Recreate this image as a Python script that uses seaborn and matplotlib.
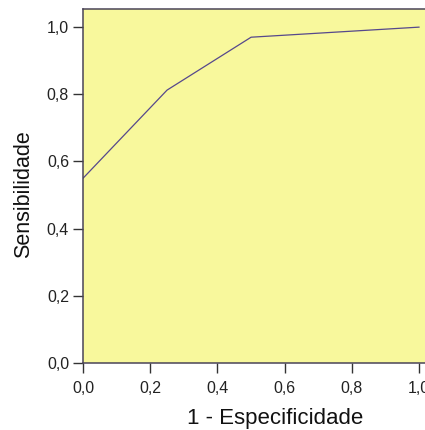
import numpy as np
import pandas as pd
import matplotlib.pyplot as plt
import seaborn as sns
from matplotlib.ticker import FuncFormatter

# ROC curve points
fpr = [0.0, 0.25, 0.5, 1.0]
tpr = [0.55, 0.8125, 0.97, 1.0]
tick_vals = [0.0, 0.2, 0.4, 0.6, 0.8, 1.0]

df = pd.DataFrame({'fpr': fpr, 'tpr': tpr})

sns.set_style("white")
plt.rcParams['font.family'] = ['Liberation Sans', 'DejaVu Sans']

fig = plt.figure(figsize=(4.25, 4.30), dpi=100)
ax = fig.add_axes([0.1953, 0.1558, 0.8306, 0.8233])
ax.set_facecolor('#F8F89C')

sns.lineplot(x='fpr', y='tpr', data=df, ax=ax, color='#56488C', linewidth=0.9,
             estimator=None, sort=False)

ax.set_xlim(0, 1.05)
ax.set_ylim(0, 1.054)
ax.set_xticks(tick_vals)
ax.set_yticks(tick_vals)
fmt = FuncFormatter(lambda v, p: f"{v:.1f}".replace('.', ','))
ax.xaxis.set_major_formatter(fmt)
ax.yaxis.set_major_formatter(fmt)
ax.tick_params(axis='both', direction='out', length=7, width=1, color='#333333',
               labelsize=11.5, labelcolor='#222222', pad=3,
               bottom=True, left=True, top=False, right=False)
ax.tick_params(axis='x', pad=6)

for s in ax.spines.values():
    s.set_color('#4a4458')
    s.set_linewidth(1.1)

ax.set_xlabel('1 - Especificidade', fontsize=16, color='#111111')
ax.set_ylabel('Sensibilidade', fontsize=15.5, color='#111111')
ax.xaxis.set_label_coords(0.544, -0.127)
ax.yaxis.set_label_coords(-0.14, 0.477)

fig.savefig('out.png', dpi=100)
